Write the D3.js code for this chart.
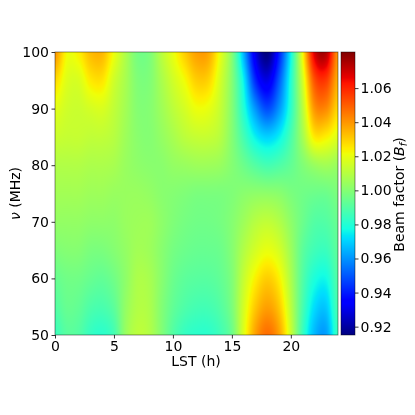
<!DOCTYPE html>
<html><head><meta charset="utf-8">
<script src="https://cdn.jsdelivr.net/npm/d3@7"></script>
<style>html,body{margin:0;padding:0;background:#fff}#w{position:relative;width:415px;height:415px}canvas,svg{position:absolute;left:0;top:0}</style>
</head><body><div id="w"><canvas id="c" width="415" height="415"></canvas><svg id="s" width="415" height="415"></svg></div>
<script>
const lst = d3.range(0, 25);
const nu = [50,55,60,65,70,75,80,85,90,95,100];
const row50  = [.985,.991,.990,.984,.982,.987,1.004,1.011,1.009,1.000,.990,.984,.982,.982,.986,.995,1.018,1.038,1.047,1.038,1.014,.985,.966,.962,.985];
const row55  = [.990,.994,.993,.989,.988,.992,1.003,1.009,1.008,1.000,.993,.989,.987,.987,.990,.998,1.016,1.031,1.038,1.031,1.011,.988,.972,.969,.988];
const row60  = [.994,.996,.996,.994,.993,.996,1.002,1.008,1.007,1.001,.995,.992,.991,.991,.993,.999,1.013,1.024,1.030,1.024,1.008,.990,.979,.977,.990];
const row65  = [.999,1.000,1.000,.998,.998,1.000,1.003,1.006,1.005,1.001,.997,.995,.994,.994,.995,1.000,1.009,1.016,1.020,1.016,1.005,.992,.986,.985,.992];
const row70  = [1.003,1.003,1.003,1.002,1.002,1.002,1.004,1.005,1.005,1.002,.999,.997,.996,.996,.997,1.000,1.005,1.010,1.012,1.009,1.002,.995,.990,.990,.994];
const row75  = [1.006,1.006,1.006,1.005,1.005,1.004,1.004,1.004,1.003,1.001,1.000,.999,.998,.998,.998,.999,1.001,1.002,1.002,1.001,.998,.996,.995,.995,.998];
const row80  = [1.009,1.009,1.009,1.008,1.008,1.007,1.004,1.002,1.001,1.001,1.003,1.004,1.005,1.005,1.004,1.000,.995,.990,.987,.989,.993,.999,1.004,1.006,1.004];
const row85  = [1.014,1.013,1.013,1.012,1.012,1.010,1.005,1.001,1.000,1.003,1.007,1.011,1.013,1.013,1.010,1.000,.987,.975,.970,.975,.988,1.006,1.025,1.024,1.018];
const row90  = [1.019,1.015,1.014,1.016,1.017,1.012,1.006,1.000,1.000,1.005,1.011,1.016,1.021,1.020,1.013,1.000,.980,.960,.948,.960,.982,1.010,1.040,1.042,1.028];
const row95  = [1.028,1.018,1.017,1.025,1.026,1.015,1.007,.999,.999,1.007,1.015,1.022,1.030,1.029,1.016,1.000,.975,.942,.930,.950,.980,1.015,1.052,1.056,1.035];
const row100 = [1.040,1.022,1.024,1.033,1.034,1.021,1.008,.997,.998,1.010,1.020,1.030,1.038,1.037,1.020,1.000,.965,.930,.915,.940,.976,1.022,1.068,1.074,1.040];
const rows = [row50,row55,row60,row65,row70,row75,row80,row85,row90,row95,row100];
const xTicks = [0,5,10,15,20];
const yTicks = [50,60,70,80,90,100];
const cTicks = [.92,.94,.96,.98,1.00,1.02,1.04,1.06];
const vMin = .9151, vMax = 1.0812;

const L=55,R=338,T=52,B=335,CL=341,CR=355;
const x = d3.scaleLinear().domain([0,24]).range([L,R]);
const y = d3.scaleLinear().domain([50,100]).range([B,T]);
const cy = d3.scaleLinear().domain([vMin,vMax]).range([B,T]);
const xIdx = d3.scaleLinear().domain([0,24]).range([0,lst.length-1]);
const yIdx = d3.scaleLinear().domain([50,100]).range([0,nu.length-1]);

function jet(t){
  t=Math.max(0,Math.min(1,t));
  const f=(a)=>Math.max(0,Math.min(1,a));
  return [
    255*f(t<.35?0:t<.66?(t-.35)/.31:t<.89?1:1-(t-.89)/.11*.5),
    255*f(t<.125?0:t<.375?(t-.125)/.25:t<.64?1:t<.91?1-(t-.64)/.27:0),
    255*f(t<.11?.5+t/.11*.5:t<.34?1:t<.65?1-(t-.34)/.31:0)
  ];
}
function cr(a,b,c,d,t){return .5*(2*b+(c-a)*t+(2*a-5*b+4*c-d)*t*t+(3*b-a-3*c+d)*t*t*t);}
function sample(l,n){
  const fx=xIdx(l),fy=yIdx(n);
  const ix=Math.min(lst.length-2,Math.floor(fx)),iy=Math.min(nu.length-2,Math.floor(fy));
  const tx=fx-ix,ty=fy-iy;
  const col=[];
  for(let j=iy-1;j<=iy+2;j++){
    const r=rows[Math.max(0,Math.min(nu.length-1,j))];
    const g=i=>r[Math.max(0,Math.min(lst.length-1,i))];
    col.push(cr(g(ix-1),g(ix),g(ix+1),g(ix+2),tx));
  }
  return cr(col[0],col[1],col[2],col[3],ty);
}
const ctx=document.getElementById('c').getContext('2d');
const W=R-L,H=B-T;
const img=ctx.createImageData(W,H);
for(let j=0;j<H;j++)for(let i=0;i<W;i++){
  const v=sample(x.invert(L+i+.5),y.invert(T+j+.5));
  const c=jet((v-vMin)/(vMax-vMin));
  const k=(j*W+i)*4;
  img.data[k]=c[0];img.data[k+1]=c[1];img.data[k+2]=c[2];img.data[k+3]=255;
}
ctx.putImageData(img,L,T);
const bar=ctx.createImageData(CR-CL,H);
for(let j=0;j<H;j++)for(let i=0;i<CR-CL;i++){
  const c=jet((cy.invert(T+j+.5)-vMin)/(vMax-vMin));
  const k=(j*(CR-CL)+i)*4;
  bar.data[k]=c[0];bar.data[k+1]=c[1];bar.data[k+2]=c[2];bar.data[k+3]=255;
}
ctx.putImageData(bar,CL,T);

const svg=d3.select('#s');
const font='"DejaVu Sans"';
const fs=14;
function style(g){
  g.select('.domain').remove();
  g.selectAll('line').attr('stroke','#000').attr('stroke-width',.8);
  g.selectAll('text').attr('font-family',font).attr('font-size',fs).attr('fill','#000');
}
svg.append('g').attr('transform',`translate(0,${B})`).call(d3.axisBottom(x).tickValues(xTicks).tickSize(3.5).tickPadding(2.5).tickFormat(d3.format('d'))).call(style);
svg.append('g').attr('transform',`translate(${L},0)`).call(d3.axisLeft(y).tickValues(yTicks).tickSize(3.5).tickPadding(2.5).tickFormat(d3.format('d'))).call(style);
svg.append('g').attr('transform',`translate(${CR},0)`).call(d3.axisRight(cy).tickValues(cTicks).tickSize(3.5).tickPadding(2).tickFormat(d3.format('.2f'))).call(style);
svg.append('rect').attr('x',L).attr('y',T).attr('width',W).attr('height',H).attr('fill','none').attr('stroke','#000').attr('stroke-width',.8).attr('stroke-opacity',.55);
svg.append('rect').attr('x',CL).attr('y',T).attr('width',CR-CL).attr('height',H).attr('fill','none').attr('stroke','#000').attr('stroke-width',.8).attr('stroke-opacity',.55);
const lab=(px,py,rot)=>svg.append('text').attr('font-family',font).attr('font-size',fs).attr('text-anchor','middle').attr('transform',`translate(${px},${py})`+(rot?` rotate(${rot})`:''));
lab(196,366).text('LST (h)');
const yl=lab(20,193.5,-90);
yl.append('tspan').attr('font-style','italic').text('ν');
yl.append('tspan').text(' (MHz)');
const cl=lab(404,194.5,-90);
cl.append('tspan').text('Beam factor (');
cl.append('tspan').attr('font-style','italic').text('B');
cl.append('tspan').attr('font-style','italic').attr('font-size',10).attr('dy',2.5).text('f');
cl.append('tspan').attr('dy',-2.5).text(')');
</script></body></html>
